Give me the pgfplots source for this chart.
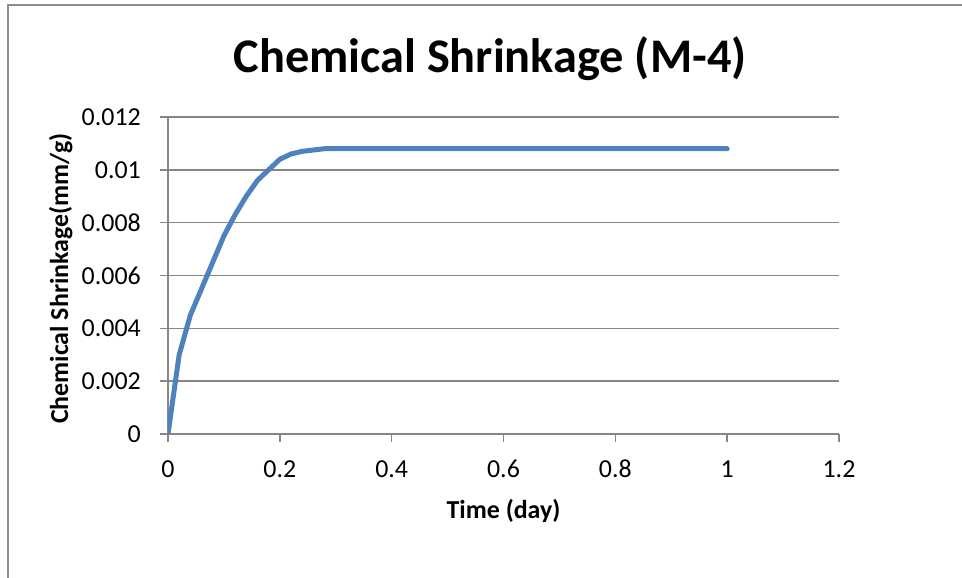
\documentclass[border=0pt]{standalone}
\usepackage{fontspec}
\setmainfont{Carlito}
\usepackage{pgfplots}
\pgfplotsset{compat=1.18}
\definecolor{seriesblue}{RGB}{79,129,189}
\definecolor{axisgray}{RGB}{134,134,134}
\definecolor{framegray}{RGB}{140,140,140}

\begin{document}
\begin{tikzpicture}
\useasboundingbox (0bp,0bp) rectangle (962bp,578bp);
% chart frame (only left and top edges are visible)
\draw[framegray, line width=2bp] (8bp,0bp) -- (8bp,572.5bp) -- (962bp,572.5bp);
\begin{axis}[
    at={(168bp,144bp)}, anchor=south west,
    scale only axis,
    width=671bp, height=317bp,
    xmin=0, xmax=1.2, ymin=0, ymax=0.012,
    xtick={0,0.2,0.4,0.6,0.8,1,1.2},
    xticklabels={0,0.2,0.4,0.6,0.8,1,1.2},
    ytick={0,0.002,0.004,0.006,0.008,0.01,0.012},
    yticklabels={0,0.002,0.004,0.006,0.008,0.01,0.012},
    scaled y ticks=false, scaled x ticks=false,
    axis lines=left,
    axis line style={-, draw=axisgray, line width=1.5bp},
    every outer x axis line/.append style={-},
    every outer y axis line/.append style={-},
    tick align=outside,
    major tick length=8bp,
    tick style={draw=axisgray, line width=1.5bp},
    ymajorgrids,
    major grid style={draw=axisgray, line width=1.5bp},
    xticklabel style={font=\fontsize{26}{31}\selectfont, anchor=base, inner sep=0pt, yshift=-35bp},
    yticklabel style={font=\fontsize{26}{31}\selectfont, anchor=east, inner sep=0pt, xshift=-19bp},
    title={Chemical Shrinkage (M-4)},
    title style={font=\bfseries\fontsize{48.5}{58}\selectfont, at={(axis description cs:0.48,1)}, anchor=base, yshift=39bp},
    xlabel={Time (day)},
    xlabel style={font=\bfseries\fontsize{26}{31}\selectfont, at={(axis description cs:0.5,-0.265)}, anchor=base},
    ylabel={Chemical Shrinkage(mm/g)},
    ylabel style={font=\bfseries\fontsize{26}{31}\selectfont, at={(axis description cs:-0.149,0.49)}, anchor=base},
]
    \addplot[seriesblue, line width=5bp, line join=round, line cap=round] coordinates {
        (0,0) (0.02,0.003) (0.04,0.0045) (0.06,0.0055) (0.08,0.0065)
        (0.1,0.0075) (0.12,0.0083) (0.14,0.009) (0.16,0.0096) (0.18,0.01)
        (0.2,0.0104) (0.22,0.0106) (0.24,0.0107) (0.26,0.01075) (0.28,0.0108)
        (0.4,0.0108) (0.6,0.0108) (0.8,0.0108) (1,0.0108)
    };
\end{axis}
\end{tikzpicture}
\end{document}
